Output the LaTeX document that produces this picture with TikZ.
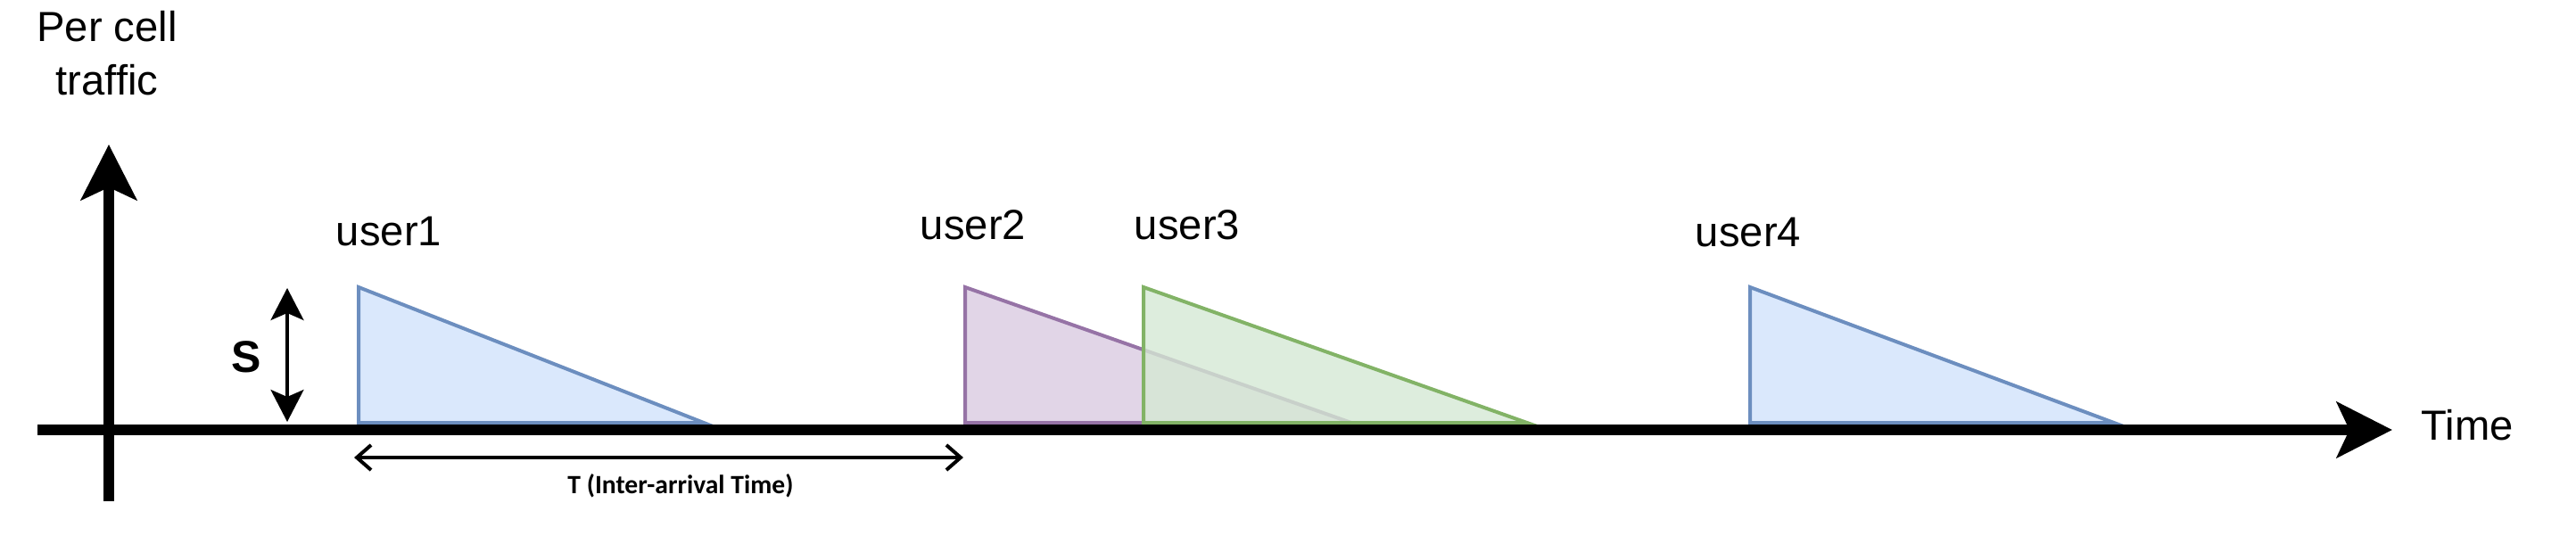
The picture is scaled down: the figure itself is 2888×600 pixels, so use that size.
\documentclass[tikz,border=0pt]{standalone}
\usepackage{fontspec}
\setmainfont{Liberation Sans}
\newfontfamily\calfont{Carlito}
\usetikzlibrary{arrows.meta}
\definecolor{bluefill}{HTML}{DAE8FC}
\definecolor{bluedraw}{HTML}{6C8EBF}
\definecolor{purplefill}{HTML}{E1D5E7}
\definecolor{purpledraw}{HTML}{9673A6}
\definecolor{greenfill}{HTML}{D5E8D4}
\definecolor{greendraw}{HTML}{82B366}
\begin{document}
\begin{tikzpicture}[x=0.25pt,y=-0.25pt,
  lbl/.style={inner sep=0pt, anchor=base, font=\fontsize{11.8pt}{14pt}\selectfont},
  axisline/.style={line width=3pt, -{Stealth[length=15.5pt,width=15.5pt,inset=3.5pt]}},
  sarrow/.style={line width=0.85pt, {Stealth[length=9pt,width=9.25pt,inset=2pt]}-{Stealth[length=9pt,width=9.25pt,inset=2pt]}},
  tarrow/.style={line width=1pt, {Straight Barb[length=4pt,width=7pt]}-{Straight Barb[length=4pt,width=7pt]}},
  tri/.style={line width=1pt, line join=miter},
  bluetri/.style={tri, draw=bluedraw, fill=bluefill},
  purpletri/.style={tri, draw=purpledraw, fill=purplefill},
  greentri/.style={tri, draw=greendraw, fill=greenfill, fill opacity=0.8}]
\useasboundingbox (0,0) rectangle (2888,600);
% triangles
\draw[bluetri] (402,322) -- (402,474) -- (789,474) -- cycle;
\draw[purpletri] (1082,322) -- (1082,474) -- (1515,474) -- cycle;
\draw[greentri] (1282,322) -- (1282,474) -- (1712,474) -- cycle;
\draw[bluetri] (1962,322) -- (1962,474) -- (2370,474) -- cycle;
% axes
\coordinate (xstart) at (42,482);
\coordinate (xend) at (2682,482);
\coordinate (ystart) at (122,562);
\coordinate (yend) at (122,162);
\draw[axisline] (xstart) -- (xend);
\draw[axisline] (ystart) -- (yend);
% S arrow
\coordinate (stop) at (322,323);
\coordinate (sbot) at (322,473);
\draw[sarrow] (stop) -- (sbot);
% T arrow
\coordinate (tleft) at (397,513);
\coordinate (tright) at (1080,513);
\draw[tarrow] (tleft) -- (tright);
% labels
\node[lbl] (ylab1) at (120,47) {Per cell};
\node[lbl] (ylab2) at (120,106) {traffic};
\node[lbl] (u1) at (436,275) {user1};
\node[lbl] (u2) at (1091,268) {user2};
\node[lbl] (u3) at (1331,268) {user3};
\node[lbl] (u4) at (1960,276) {user4};
\node[lbl, font=\bfseries\fontsize{12.5pt}{14pt}\selectfont] (slab) at (276,417) {S};
\node[lbl, font=\calfont\bfseries\fontsize{7.4pt}{9pt}\selectfont] (tlab) at (763,553) {T (Inter-arrival Time)};
\node[lbl, anchor=base west] (timelab) at (2714,493) {Time};
\end{tikzpicture}
\end{document}
